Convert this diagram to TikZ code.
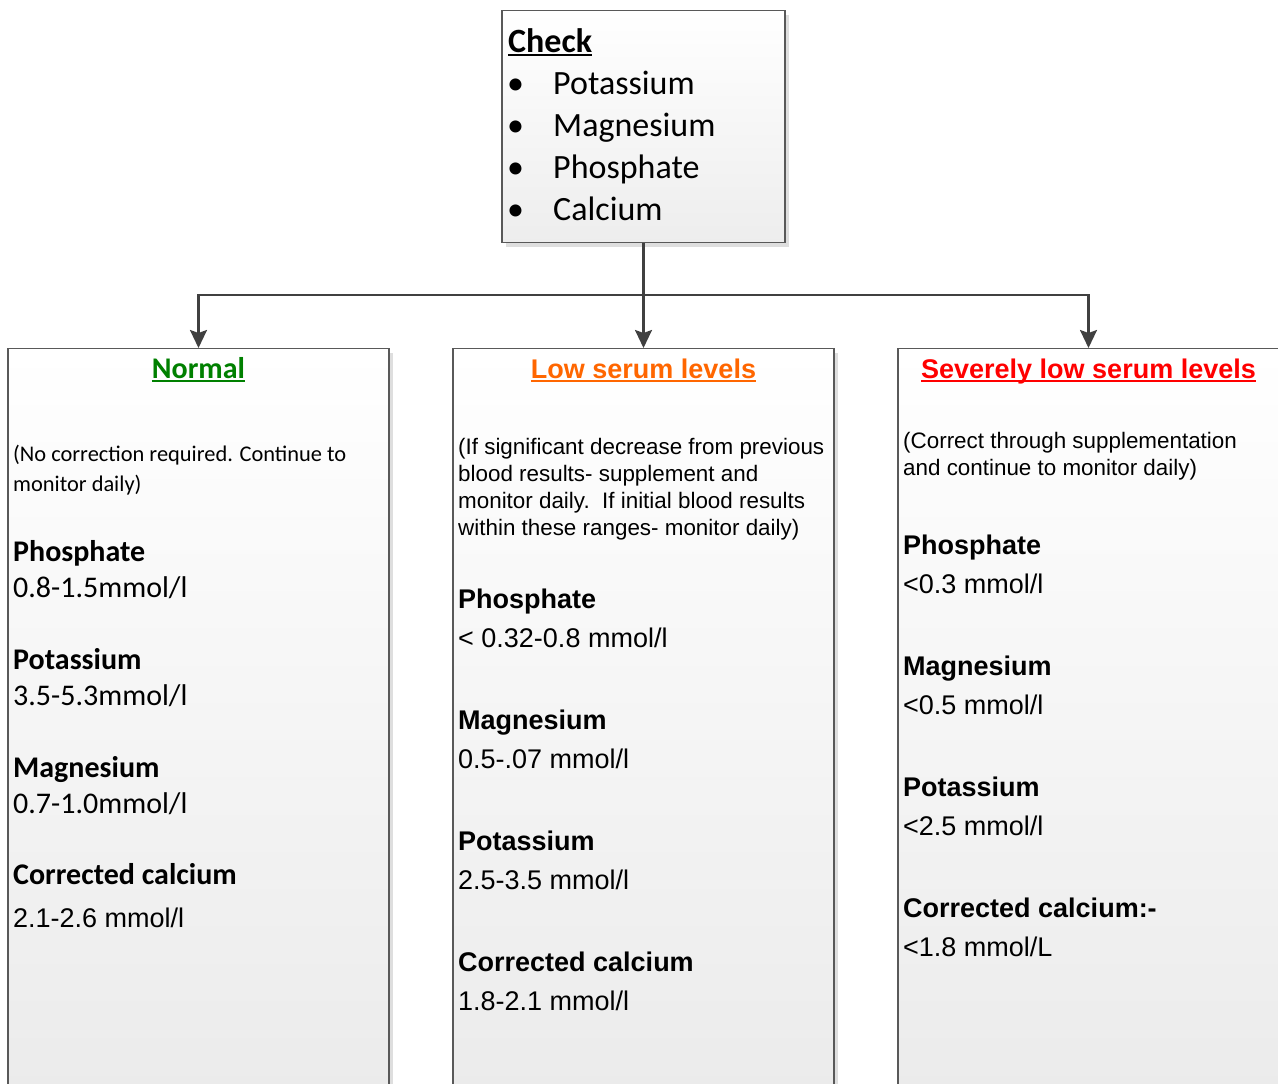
\documentclass[tikz,border=0pt]{standalone}
\usepackage{fontspec}
\setmainfont{Carlito}
\newfontfamily\arialfont{Liberation Sans}
\usetikzlibrary{positioning,arrows.meta,shadows}
\definecolor{okgreen}{RGB}{0,128,0}
\definecolor{loworange}{RGB}{255,102,0}
\definecolor{sevred}{RGB}{255,0,0}
\definecolor{linegray}{RGB}{64,64,64}
\newcommand{\ulbar}[1]{\setbox0\hbox{#1}\rlap{\rule[-3.5pt]{\wd0}{2pt}}\box0}
\tikzset{
  panel/.style={rectangle, draw=black!65, line width=1.2pt, top color=white, bottom color=black!8,
    minimum width=381pt, minimum height=760pt, anchor=north, inner sep=0pt,
    drop shadow={shadow xshift=4pt, shadow yshift=-4pt, fill=black!13, opacity=1}},
  checkbox/.style={panel, minimum width=283pt, minimum height=232pt, bottom color=black!7},
  conn/.style={draw=linegray, line width=2.4pt, -{Stealth[length=18pt,width=17pt,inset=3pt]}},
  lbl/.style={inner sep=0pt, anchor=base west},
  title/.style={inner sep=0pt, anchor=base},
  calhead/.style={lbl, font=\fontsize{30}{36}\selectfont\bfseries},
  calval/.style={lbl, font=\fontsize{30}{36}\selectfont},
  calpara/.style={lbl, font=\fontsize{22.4}{27}\selectfont},
  arhead/.style={lbl, font=\arialfont\fontsize{27}{32}\selectfont\bfseries},
  arval/.style={lbl, font=\arialfont\fontsize{27}{32}\selectfont},
  arpara/.style={lbl, font=\arialfont\fontsize{22.4}{27}\selectfont},
  chk/.style={lbl, font=\fontsize{34}{40}\selectfont}
}
\begin{document}
\begin{tikzpicture}[x=1pt,y=-1pt]
\useasboundingbox (0,0) rectangle (1278,1084);
\clip (0,0) rectangle (1278,1084);

%Boxes
\node [checkbox] (check) at (643.5,10) {};
\node [panel] (normal) at (198.5,348) {};
\node [panel] (low) at (643.5,348) {};
\node [panel] (severe) at (1088.5,348) {};

%Connectors
\coordinate (split) at (643.5,295);
\draw [draw=linegray, line width=2.4pt] (check.south) -- (split);
\draw [conn] (split) -| (normal.north);
\draw [conn] (split) -- (low.north);
\draw [conn] (split) -| (severe.north);

% Check list
\node [chk, font=\fontsize{34}{40}\selectfont\bfseries] (chktitle) at (508,52) {\ulbar{Check}};
\node [chk] (b1) at (507,94) {•};
\node [chk] (c1) at (553,94) {Potassium};
\node [chk] (b2) at (507,136) {•};
\node [chk] (c2) at (553,136) {Magnesium};
\node [chk] (b3) at (507,178) {•};
\node [chk] (c3) at (553,178) {Phosphate};
\node [chk] (b4) at (507,220) {•};
\node [chk] (c4) at (553,220) {Calcium};

% Normal
\node [title, text=okgreen, font=\fontsize{30}{36}\selectfont\bfseries] (ntitle) at (198.5,378) {\ulbar{Normal}};
\node [calpara] (np1) at (13,461) {(No correction required. Continue to};
\node [calpara] (np2) at (13,491) {monitor daily)};
\node [calhead] (nh1) at (13,561) {Phosphate};
\node [calval] (nv1) at (13,597) {0.8-1.5mmol/l};
\node [calhead] (nh2) at (13,669) {Potassium};
\node [calval] (nv2) at (13,705) {3.5-5.3mmol/l};
\node [calhead] (nh3) at (13,777) {Magnesium};
\node [calval] (nv3) at (13,813) {0.7-1.0mmol/l};
\node [calhead] (nh4) at (13,884) {Corrected calcium};
\node [arval] (nv4) at (13,927) {2.1-2.6 mmol/l};

% Low serum levels
\node [title, text=loworange, font=\arialfont\fontsize{27}{32}\selectfont\bfseries] (ltitle) at (643.5,378) {\ulbar{Low serum levels}};
\node [arpara] (lp1) at (458,454) {(If significant decrease from previous};
\node [arpara] (lp2) at (458,481) {blood results- supplement and};
\node [arpara] (lp3) at (458,508) {monitor daily.\ \ If initial blood results};
\node [arpara] (lp4) at (458,535) {within these ranges- monitor daily)};
\node [arhead] (lh1) at (458,608) {Phosphate};
\node [arval] (lv1) at (458,647) {< 0.32-0.8 mmol/l};
\node [arhead] (lh2) at (458,729) {Magnesium};
\node [arval] (lv2) at (458,768) {0.5-.07 mmol/l};
\node [arhead] (lh3) at (458,850) {Potassium};
\node [arval] (lv3) at (458,889) {2.5-3.5 mmol/l};
\node [arhead] (lh4) at (458,971) {Corrected calcium};
\node [arval] (lv4) at (458,1010) {1.8-2.1 mmol/l};

% Severely low serum levels
\node [title, text=sevred, font=\arialfont\fontsize{27}{32}\selectfont\bfseries] (stitle) at (1088.5,378) {\ulbar{Severely low serum levels}};
\node [arpara] (sp1) at (903,448) {(Correct through supplementation};
\node [arpara] (sp2) at (903,475) {and continue to monitor daily)};
\node [arhead] (sh1) at (903,554) {Phosphate};
\node [arval] (sv1) at (903,593) {<0.3 mmol/l};
\node [arhead] (sh2) at (903,675) {Magnesium};
\node [arval] (sv2) at (903,714) {<0.5 mmol/l};
\node [arhead] (sh3) at (903,796) {Potassium};
\node [arval] (sv3) at (903,835) {<2.5 mmol/l};
\node [arhead] (sh4) at (903,917) {Corrected calcium:-};
\node [arval] (sv4) at (903,956) {<1.8 mmol/L};

\end{tikzpicture}
\end{document}
